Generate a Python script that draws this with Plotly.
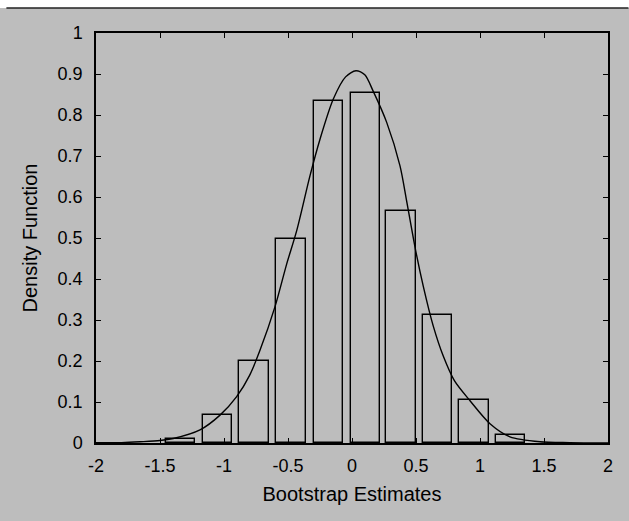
import plotly.graph_objects as go

# Histogram of bootstrap estimates (bin centres and densities)
bin_centers = [-1.338, -1.052, -0.766, -0.475, -0.185, 0.104, 0.384, 0.668, 0.952, 1.240]
bin_density = [0.010, 0.069, 0.200, 0.497, 0.834, 0.853, 0.567, 0.313, 0.104, 0.019]
bin_width = 0.23

# Fitted density curve
curve_x = [-2.0, -1.8, -1.656, -1.5, -1.396, -1.1875, -1.031, -0.901, -0.80, -0.719,
           -0.602, -0.51, -0.432, -0.328, -0.25, -0.146, -0.05, 0.031, 0.1, 0.167,
           0.271, 0.375, 0.427, 0.497, 0.557, 0.635, 0.713, 0.80, 0.922, 1.078,
           1.234, 1.47, 1.7, 2.0]
curve_y = [0.0005, 0.001, 0.003, 0.006, 0.011, 0.032, 0.068, 0.113, 0.165, 0.226,
           0.332, 0.437, 0.518, 0.652, 0.741, 0.839, 0.893, 0.908, 0.898, 0.857,
           0.782, 0.676, 0.590, 0.470, 0.382, 0.285, 0.212, 0.152, 0.103, 0.047,
           0.015, 0.003, 0.001, 0.0003]

x_tick_vals = [-2, -1.5, -1, -0.5, 0, 0.5, 1, 1.5, 2]
x_tick_text = ["-2", "-1.5", "-1", "-0.5", "0", "0.5", "1", "1.5", "2"]
y_tick_vals = [0, 0.1, 0.2, 0.3, 0.4, 0.5, 0.6, 0.7, 0.8, 0.9, 1]
y_tick_text = ["0", "0.1", "0.2", "0.3", "0.4", "0.5", "0.6", "0.7", "0.8", "0.9", "1"]

BG = "#bdbdbd"
FONT = "Liberation Sans, Arial, Helvetica, sans-serif"

fig = go.Figure()
fig.add_trace(go.Bar(
    x=bin_centers, y=bin_density, width=bin_width,
    marker=dict(color="rgba(0,0,0,0)", line=dict(color="black", width=1.4)),
    showlegend=False, hoverinfo="skip",
))
fig.add_trace(go.Scatter(
    x=curve_x, y=curve_y, mode="lines",
    line=dict(color="black", width=1.4, shape="spline", smoothing=0.8),
    showlegend=False,
))

axis_common = dict(
    showline=True, linecolor="black", linewidth=1.5, mirror="ticks",
    ticks="inside", ticklen=5, tickwidth=1, tickcolor="black",
    showgrid=False, zeroline=False,
    tickfont=dict(family=FONT, size=18, color="black"),
)

fig.update_layout(
    width=629, height=521,
    margin=dict(l=96, r=21, t=33, b=78),
    paper_bgcolor=BG, plot_bgcolor=BG,
    font=dict(family=FONT, color="black"),
    xaxis=dict(range=[-2, 2], tickmode="array", tickvals=x_tick_vals, ticktext=x_tick_text,
               ticklabelstandoff=6,
               title=dict(text="Bootstrap Estimates", font=dict(size=20), standoff=12),
               **axis_common),
    yaxis=dict(range=[0, 1], tickmode="array", tickvals=y_tick_vals, ticktext=y_tick_text,
               ticklabelstandoff=8,
               title=dict(text="Density Function", font=dict(size=20), standoff=15),
               **axis_common),
    bargap=0,
    shapes=[
        dict(type="rect", xref="paper", yref="paper", x0=-0.2, x1=1.1,
             y0=1 + 25 / 410, y1=1.2, fillcolor="white", line=dict(width=0), layer="below"),
        dict(type="line", xref="paper", yref="paper", x0=-0.175, x1=1.04,
             y0=1 + 25 / 410, y1=1 + 25 / 410, line=dict(color="#222222", width=1.5)),
    ],
)

fig.write_html("out.html", config={"displayModeBar": False},
               post_script="document.body.style.margin='0';")
